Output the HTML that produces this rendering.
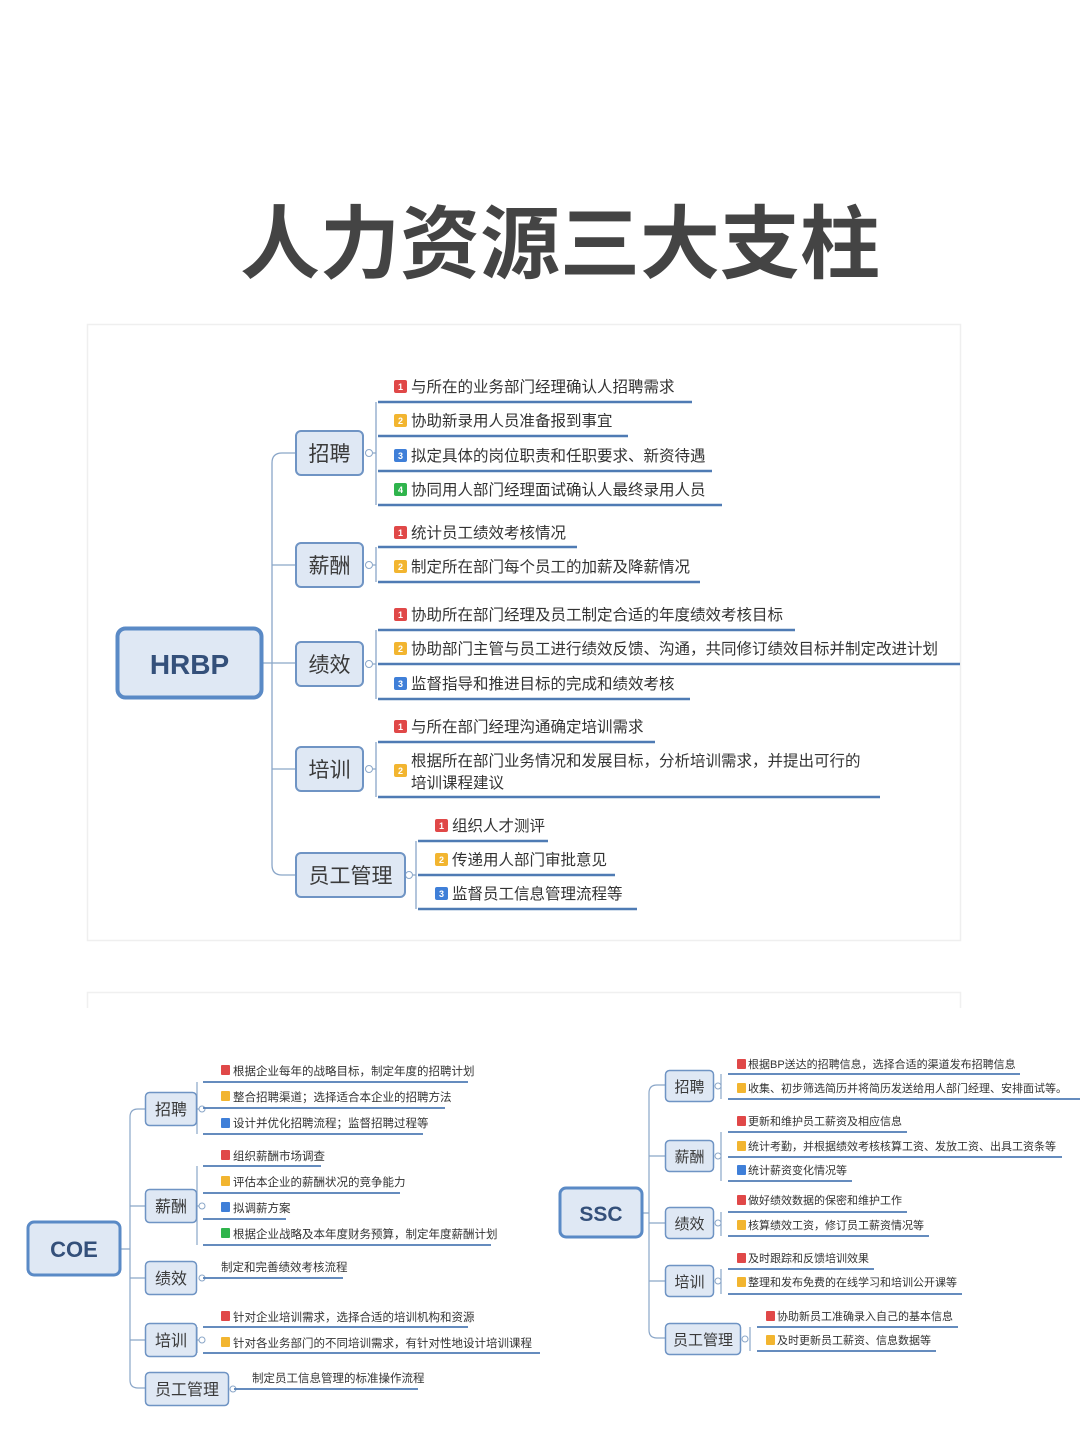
<!DOCTYPE html>
<html><head><meta charset="utf-8"><style>
html,body{margin:0;padding:0;background:#fff;}
svg{display:block;}
text{font-family:"Liberation Sans","Noto Sans CJK SC",sans-serif;}
</style></head><body>
<svg width="1080" height="1440" viewBox="0 0 1080 1440" xmlns="http://www.w3.org/2000/svg">
<rect width="1080" height="1440" fill="#fff"/>
<text x="560" y="272" text-anchor="middle" font-size="80" font-weight="bold" fill="#444" style="font-family:'Noto Sans CJK SC',sans-serif">人力资源三大支柱</text>

<!-- panels -->
<rect x="87.5" y="324.5" width="873" height="616" fill="none" stroke="#efefef" stroke-width="1.5"/>
<path d="M87.5 1008 V992.5 H960.5 V1008" fill="none" stroke="#f0f0f0" stroke-width="1.5"/>

<!-- ================= HRBP ================= -->
<g fill="none" stroke="#8aa6c8" stroke-width="1.3">
<path d="M295 453 H282 Q272 453 272 463 V865 Q272 875 282 875 H295"/>
<path d="M263 663 H295"/>
<path d="M272 565 H295"/>
<path d="M272 769 H295"/>
<path d="M376 402 V505 M376 547 V582 M376 630 V699 M376 742 V797 M416 841 V909"/>
<path d="M373 453 H376 M373 565 H376 M373 664 H376 M373 769 H376 M413 875 H416"/>
</g>
<g fill="#fff" stroke="#8aa6c8" stroke-width="1"><circle cx="369" cy="453" r="3.5"/><circle cx="369" cy="565" r="3.5"/><circle cx="369" cy="664" r="3.5"/><circle cx="369" cy="769" r="3.5"/><circle cx="409" cy="875" r="3.5"/></g>
<rect x="117.5" y="628.5" width="144" height="69" rx="8" fill="#dfe8f4" stroke="#5a8ac6" stroke-width="4"/>
<text x="189.5" y="674" text-anchor="middle" font-size="28" font-weight="bold" fill="#34507a">HRBP</text>
<g fill="#dfe8f4" stroke="#6f94c4" stroke-width="2">
<rect x="296" y="431" width="67" height="44" rx="5"/>
<rect x="296" y="543" width="67" height="44" rx="5"/>
<rect x="296" y="642" width="67" height="44" rx="5"/>
<rect x="296" y="747" width="67" height="44" rx="5"/>
<rect x="296" y="853" width="109" height="44" rx="5"/>
</g>
<g font-size="21" fill="#3a3a3a" text-anchor="middle">
<text x="329.5" y="461">招聘</text><text x="329.5" y="573">薪酬</text><text x="329.5" y="672">绩效</text><text x="329.5" y="777">培训</text><text x="350.5" y="883">员工管理</text>
</g>
<g stroke="#4f7bb4" stroke-width="2.5">
<line x1="378" y1="402" x2="692" y2="402"/><line x1="378" y1="436" x2="628" y2="436"/><line x1="378" y1="471" x2="712" y2="471"/><line x1="378" y1="505" x2="722" y2="505"/>
<line x1="378" y1="547" x2="577" y2="547"/><line x1="378" y1="582" x2="700" y2="582"/>
<line x1="378" y1="630" x2="795" y2="630"/><line x1="378" y1="664" x2="960" y2="664"/><line x1="378" y1="699" x2="690" y2="699"/>
<line x1="378" y1="742" x2="655" y2="742"/><line x1="378" y1="797" x2="880" y2="797"/>
<line x1="418" y1="841" x2="548" y2="841"/><line x1="418" y1="875" x2="615" y2="875"/><line x1="418" y1="909" x2="637" y2="909"/>
</g>
<g>
<rect x="394" y="380" width="13" height="13" rx="2" fill="#e04848"/>
<rect x="394" y="414" width="13" height="13" rx="2" fill="#f2b530"/>
<rect x="394" y="449" width="13" height="13" rx="2" fill="#3f7fd8"/>
<rect x="394" y="483" width="13" height="13" rx="2" fill="#2fb44c"/>
<rect x="394" y="526" width="13" height="13" rx="2" fill="#e04848"/>
<rect x="394" y="560" width="13" height="13" rx="2" fill="#f2b530"/>
<rect x="394" y="608" width="13" height="13" rx="2" fill="#e04848"/>
<rect x="394" y="642" width="13" height="13" rx="2" fill="#f2b530"/>
<rect x="394" y="677" width="13" height="13" rx="2" fill="#3f7fd8"/>
<rect x="394" y="720" width="13" height="13" rx="2" fill="#e04848"/>
<rect x="394" y="764" width="13" height="13" rx="2" fill="#f2b530"/>
<rect x="435" y="819" width="13" height="13" rx="2" fill="#e04848"/>
<rect x="435" y="853" width="13" height="13" rx="2" fill="#f2b530"/>
<rect x="435" y="887" width="13" height="13" rx="2" fill="#3f7fd8"/>
</g>
<g font-size="9" fill="#fff" text-anchor="middle" font-weight="bold">
<text x="400.5" y="390">1</text><text x="400.5" y="424">2</text><text x="400.5" y="459">3</text><text x="400.5" y="493">4</text>
<text x="400.5" y="536">1</text><text x="400.5" y="570">2</text>
<text x="400.5" y="618">1</text><text x="400.5" y="652">2</text><text x="400.5" y="687">3</text>
<text x="400.5" y="730">1</text><text x="400.5" y="774">2</text>
<text x="441.5" y="829">1</text><text x="441.5" y="863">2</text><text x="441.5" y="897">3</text>
</g>
<g font-size="15.5" fill="#333">
<text x="411" y="392">与所在的业务部门经理确认人招聘需求</text>
<text x="411" y="426">协助新录用人员准备报到事宜</text>
<text x="411" y="461">拟定具体的岗位职责和任职要求、新资待遇</text>
<text x="411" y="495">协同用人部门经理面试确认人最终录用人员</text>
<text x="411" y="538">统计员工绩效考核情况</text>
<text x="411" y="572">制定所在部门每个员工的加薪及降薪情况</text>
<text x="411" y="620">协助所在部门经理及员工制定合适的年度绩效考核目标</text>
<text x="411" y="654">协助部门主管与员工进行绩效反馈、沟通，共同修订绩效目标并制定改进计划</text>
<text x="411" y="689">监督指导和推进目标的完成和绩效考核</text>
<text x="411" y="732">与所在部门经理沟通确定培训需求</text>
<text x="411" y="766">根据所在部门业务情况和发展目标，分析培训需求，并提出可行的</text>
<text x="411" y="788">培训课程建议</text>
<text x="452" y="831">组织人才测评</text>
<text x="452" y="865">传递用人部门审批意见</text>
<text x="452" y="899">监督员工信息管理流程等</text>
</g>

<!-- ================= COE ================= -->
<g fill="none" stroke="#8aa6c8" stroke-width="1.2">
<path d="M145 1109 H138 Q130 1109 130 1117 V1380 Q130 1388 138 1388 H145"/>
<path d="M121 1249 H130 M130 1206 H145 M130 1278 H145 M130 1340 H145"/>
<path d="M197 1082 V1134 M197 1166 V1245 M197 1327 V1353"/>
<path d="M201 1109 H197 M201 1206 H197 M201 1340 H197"/>
</g>
<g fill="#fff" stroke="#8aa6c8" stroke-width="1"><circle cx="202" cy="1109" r="3"/><circle cx="202" cy="1206" r="3"/><circle cx="202" cy="1278" r="3"/><circle cx="202" cy="1340" r="3"/><circle cx="233" cy="1389" r="3"/></g>
<rect x="28" y="1222" width="92" height="53" rx="6" fill="#dfe8f4" stroke="#5a8ac6" stroke-width="3"/>
<text x="74" y="1257" text-anchor="middle" font-size="22" font-weight="bold" fill="#34507a">COE</text>
<g fill="#dfe8f4" stroke="#6f94c4" stroke-width="1.5">
<rect x="145.5" y="1092.5" width="51" height="33" rx="4"/>
<rect x="145.5" y="1189.5" width="51" height="33" rx="4"/>
<rect x="145.5" y="1261.5" width="51" height="33" rx="4"/>
<rect x="145.5" y="1323.5" width="51" height="33" rx="4"/>
<rect x="145.5" y="1372.5" width="83" height="33" rx="4"/>
</g>
<g font-size="16" fill="#3a3a3a" text-anchor="middle">
<text x="171" y="1115">招聘</text><text x="171" y="1212">薪酬</text><text x="171" y="1284">绩效</text><text x="171" y="1346">培训</text><text x="187" y="1395">员工管理</text>
</g>
<g stroke="#4f7bb4" stroke-width="1.8">
<line x1="203" y1="1082" x2="468" y2="1082"/><line x1="203" y1="1108" x2="445" y2="1108"/><line x1="203" y1="1134" x2="423" y2="1134"/>
<line x1="203" y1="1166" x2="321" y2="1166"/><line x1="203" y1="1193" x2="400" y2="1193"/><line x1="203" y1="1219" x2="286" y2="1219"/><line x1="203" y1="1245" x2="491" y2="1245"/>
<line x1="203" y1="1278" x2="343" y2="1278"/>
<line x1="203" y1="1327" x2="468" y2="1327"/><line x1="203" y1="1353" x2="540" y2="1353"/>
<line x1="234" y1="1389" x2="418" y2="1389"/>
</g>
<g>
<rect x="221" y="1065" width="9" height="10" rx="1" fill="#e04848"/>
<rect x="221" y="1091" width="9" height="10" rx="1" fill="#f2b530"/>
<rect x="221" y="1118" width="9" height="10" rx="1" fill="#3f7fd8"/>
<rect x="221" y="1150" width="9" height="10" rx="1" fill="#e04848"/>
<rect x="221" y="1176" width="9" height="10" rx="1" fill="#f2b530"/>
<rect x="221" y="1202" width="9" height="10" rx="1" fill="#3f7fd8"/>
<rect x="221" y="1228" width="9" height="10" rx="1" fill="#2fb44c"/>
<rect x="221" y="1311" width="9" height="10" rx="1" fill="#e04848"/>
<rect x="221" y="1337" width="9" height="10" rx="1" fill="#f2b530"/>
</g>
<g font-size="11.5" fill="#333">
<text x="233" y="1075">根据企业每年的战略目标，制定年度的招聘计划</text>
<text x="233" y="1101">整合招聘渠道；选择适合本企业的招聘方法</text>
<text x="233" y="1127">设计并优化招聘流程；监督招聘过程等</text>
<text x="233" y="1160">组织薪酬市场调查</text>
<text x="233" y="1186">评估本企业的薪酬状况的竞争能力</text>
<text x="233" y="1212">拟调薪方案</text>
<text x="233" y="1238">根据企业战略及本年度财务预算，制定年度薪酬计划</text>
<text x="221" y="1271">制定和完善绩效考核流程</text>
<text x="233" y="1321">针对企业培训需求，选择合适的培训机构和资源</text>
<text x="233" y="1347">针对各业务部门的不同培训需求，有针对性地设计培训课程</text>
<text x="252" y="1382">制定员工信息管理的标准操作流程</text>
</g>

<!-- ================= SSC ================= -->
<g fill="none" stroke="#8aa6c8" stroke-width="1.2">
<path d="M665 1085 H657 Q649 1085 649 1093 V1330 Q649 1338 657 1338 H665"/>
<path d="M643 1213 H649 M649 1156 H665 M649 1223 H665 M649 1281 H665"/>
<path d="M721 1074 V1099 M721 1132 V1181 M721 1212 V1236 M721 1269 V1294 M750 1327 V1351"/>
</g>
<g fill="#fff" stroke="#8aa6c8" stroke-width="1"><circle cx="718" cy="1086" r="3"/><circle cx="718" cy="1156" r="3"/><circle cx="718" cy="1223" r="3"/><circle cx="718" cy="1281" r="3"/><circle cx="745" cy="1339" r="3"/></g>
<rect x="560" y="1188" width="82" height="49" rx="6" fill="#dfe8f4" stroke="#5a8ac6" stroke-width="3"/>
<text x="601" y="1221" text-anchor="middle" font-size="21" font-weight="bold" fill="#34507a">SSC</text>
<g fill="#dfe8f4" stroke="#6f94c4" stroke-width="1.5">
<rect x="665.5" y="1070.5" width="48" height="31" rx="4"/>
<rect x="665.5" y="1140.5" width="48" height="31" rx="4"/>
<rect x="665.5" y="1207.5" width="48" height="31" rx="4"/>
<rect x="665.5" y="1265.5" width="48" height="31" rx="4"/>
<rect x="665.5" y="1323.5" width="75" height="31" rx="4"/>
</g>
<g font-size="15" fill="#3a3a3a" text-anchor="middle">
<text x="689.5" y="1092">招聘</text><text x="689.5" y="1162">薪酬</text><text x="689.5" y="1229">绩效</text><text x="689.5" y="1287">培训</text><text x="703" y="1345">员工管理</text>
</g>
<g stroke="#4f7bb4" stroke-width="1.8">
<line x1="728" y1="1074" x2="1020" y2="1074"/><line x1="728" y1="1099" x2="1080" y2="1099"/>
<line x1="728" y1="1132" x2="907" y2="1132"/><line x1="728" y1="1157" x2="1062" y2="1157"/><line x1="728" y1="1181" x2="852" y2="1181"/>
<line x1="728" y1="1212" x2="907" y2="1212"/><line x1="728" y1="1236" x2="929" y2="1236"/>
<line x1="728" y1="1269" x2="874" y2="1269"/><line x1="728" y1="1294" x2="962" y2="1294"/>
<line x1="757" y1="1327" x2="958" y2="1327"/><line x1="757" y1="1351" x2="936" y2="1351"/>
</g>
<g>
<rect x="737" y="1059" width="9" height="10" rx="1" fill="#e04848"/>
<rect x="737" y="1083" width="9" height="10" rx="1" fill="#f2b530"/>
<rect x="737" y="1116" width="9" height="10" rx="1" fill="#e04848"/>
<rect x="737" y="1141" width="9" height="10" rx="1" fill="#f2b530"/>
<rect x="737" y="1165" width="9" height="10" rx="1" fill="#3f7fd8"/>
<rect x="737" y="1195" width="9" height="10" rx="1" fill="#e04848"/>
<rect x="737" y="1220" width="9" height="10" rx="1" fill="#f2b530"/>
<rect x="737" y="1253" width="9" height="10" rx="1" fill="#e04848"/>
<rect x="737" y="1277" width="9" height="10" rx="1" fill="#f2b530"/>
<rect x="766" y="1311" width="9" height="10" rx="1" fill="#e04848"/>
<rect x="766" y="1335" width="9" height="10" rx="1" fill="#f2b530"/>
</g>
<g font-size="11" fill="#333">
<text x="748" y="1068">根据BP送达的招聘信息，选择合适的渠道发布招聘信息</text>
<text x="748" y="1092">收集、初步筛选简历并将简历发送给用人部门经理、安排面试等。</text>
<text x="748" y="1125">更新和维护员工薪资及相应信息</text>
<text x="748" y="1150">统计考勤，并根据绩效考核核算工资、发放工资、出具工资条等</text>
<text x="748" y="1174">统计薪资变化情况等</text>
<text x="748" y="1204">做好绩效数据的保密和维护工作</text>
<text x="748" y="1229">核算绩效工资，修订员工薪资情况等</text>
<text x="748" y="1262">及时跟踪和反馈培训效果</text>
<text x="748" y="1286">整理和发布免费的在线学习和培训公开课等</text>
<text x="777" y="1320">协助新员工准确录入自己的基本信息</text>
<text x="777" y="1344">及时更新员工薪资、信息数据等</text>
</g>
</svg>
</body></html>
